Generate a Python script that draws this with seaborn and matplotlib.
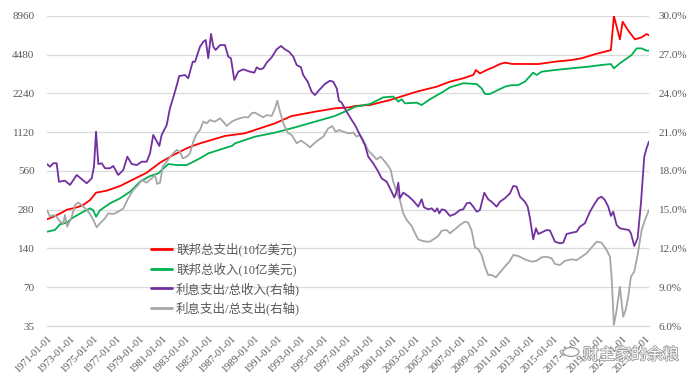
import matplotlib
matplotlib.use("Agg")
import matplotlib.pyplot as plt
import matplotlib.patheffects as pe
from matplotlib.lines import Line2D
import seaborn as sns

# ---------------- data ----------------
years = list(range(1971, 2024, 2))
tick_labels = [f"{y}-01-01" for y in years]

exp_t = [1971.0, 1971.69, 1972.42, 1972.71, 1973.58, 1974.15, 1974.74, 1975.26, 1976.19, 1977.34,
         1978.5, 1979.66, 1980.82, 1981.97, 1983.14, 1983.86, 1984.29, 1986.46, 1988.2, 1990.81,
         1992.26, 1994.28, 1996.02, 1997.32, 1997.76, 1999.06, 2000.8, 2003.11, 2004.85, 2006.01,
         2007.16, 2008.03, 2008.27, 2008.61, 2009.2, 2009.77, 2010.35, 2010.8, 2011.4, 2013.68,
         2015.13, 2016.58, 2017.45, 2018.6, 2019.47, 2019.99, 2020.25, 2020.77, 2021.01, 2021.5,
         2022.08, 2022.66, 2023.09, 2023.29]
exp_v = [236, 250, 270, 280, 292, 305, 333, 380, 394, 428,
         482, 543, 650, 745, 840, 891, 918, 1048, 1099, 1314,
         1498, 1617, 1719, 1749, 1793, 1824, 1994, 2314, 2530, 2769,
         2940, 3120, 3410, 3210, 3410, 3580, 3795, 3890, 3800, 3795,
         3956, 4080, 4205, 4525, 4735, 4870, 8960, 5900, 8090, 6890,
         5900, 6120, 6490, 6350]

rec_t = [1971.0, 1971.69, 1972.13, 1972.71, 1973.28, 1974.15, 1974.74, 1975.02, 1975.26, 1975.6,
         1976.47, 1977.34, 1978.21, 1979.08, 1979.95, 1980.67, 1981.54, 1982.27, 1983.14, 1983.71,
         1984.29, 1985.01, 1987.1, 1987.33, 1989.07, 1990.81, 1992.54, 1994.28, 1996.02, 1997.32,
         1997.76, 1999.06, 2000.21, 2001.08, 2001.52, 2001.81, 2002.1, 2003.11, 2003.55, 2004.27,
         2005.42, 2006.01, 2007.16, 2008.32, 2008.76, 2009.05, 2009.48, 2010.06, 2010.78, 2011.22,
         2011.94, 2012.52, 2013.24, 2013.54, 2013.97, 2015.13, 2016.58, 2018.02, 2019.18, 2019.99,
         2020.25, 2020.77, 2021.79, 2022.22, 2022.66, 2023.09, 2023.29]
rec_v = [189, 195, 216, 222, 244, 270, 287, 277, 247, 277,
         314, 343, 386, 462, 512, 537, 634, 623, 623, 661,
         703, 768, 880, 918, 1035, 1112, 1222, 1353, 1498, 1687,
         1768, 1857, 2090, 2120, 1937, 2020, 1878, 1900, 1824, 2020,
         2314, 2503, 2690, 2655, 2457, 2220, 2220, 2356, 2530, 2590,
         2606, 2769, 3252, 3120, 3309, 3410, 3515, 3619, 3731, 3795,
         3515, 3844, 4460, 5020, 5020, 4820, 4820]

int_rec_t = [1971.0, 1971.26, 1971.55, 1971.84, 1972.04, 1972.56, 1973.0, 1973.58, 1974.45, 1974.88,
             1975.08, 1975.26, 1975.46, 1975.75, 1976.04, 1976.47, 1976.76, 1977.19, 1977.63, 1977.98,
             1978.36, 1978.79, 1979.23, 1979.66, 1979.95, 1980.23, 1980.76, 1980.96, 1981.4, 1981.68,
             1982.12, 1982.49, 1982.99, 1983.27, 1983.66, 1983.86, 1984.29, 1984.58, 1984.79, 1985.01,
             1985.25, 1985.45, 1985.65, 1986.03, 1986.46, 1986.75, 1986.98, 1987.27, 1987.62, 1988.05,
             1988.63, 1989.01, 1989.22, 1989.5, 1989.79, 1990.08, 1990.52, 1990.95, 1991.33, 1991.67,
             1992.02, 1992.4, 1992.69, 1993.06, 1993.26, 1993.65, 1993.99, 1994.28, 1994.71, 1995.15,
             1995.58, 1995.87, 1996.17, 1996.37, 1996.6, 1997.03, 1997.47, 1997.76, 1998.19, 1998.62,
             1998.91, 1999.34, 1999.78, 2000.07, 2000.51, 2000.73, 2000.94, 2001.17, 2001.38, 2001.52,
             2001.66, 2001.95, 2002.38, 2002.82, 2003.25, 2003.55, 2003.75, 2004.12, 2004.42, 2004.7,
             2004.9, 2005.08, 2005.29, 2005.57, 2006.01, 2006.44, 2006.88, 2007.16, 2007.46, 2007.74,
             2008.03, 2008.33, 2008.61, 2008.99, 2009.33, 2009.63, 2010.06, 2010.35, 2010.78, 2011.22,
             2011.51, 2011.8, 2012.09, 2012.52, 2012.76, 2012.96, 2013.24, 2013.48, 2013.68, 2014.11,
             2014.41, 2014.69, 2015.13, 2015.56, 2015.85, 2016.14, 2016.58, 2017.01, 2017.3, 2017.73,
             2018.17, 2018.6, 2018.89, 2019.18, 2019.47, 2019.76, 2019.99, 2020.19, 2020.49, 2020.77,
             2021.21, 2021.56, 2021.73, 2022.02, 2022.31, 2022.6, 2022.89, 2023.09, 2023.29]
int_rec_v = [18.54, 18.33, 18.6, 18.6, 17.17, 17.25, 16.92, 17.69, 17.05, 17.43,
             18.33, 21.04, 18.54, 18.6, 18.21, 18.21, 18.39, 17.69, 18.08, 19.11,
             18.54, 18.46, 18.72, 18.72, 19.37, 20.79, 19.94, 20.79, 21.56, 22.85,
             24.14, 25.35, 25.43, 25.18, 26.46, 26.46, 27.62, 28.01, 28.14, 26.73,
             28.61, 27.62, 27.37, 27.75, 27.75, 26.85, 26.73, 25.05, 25.69, 25.87,
             25.69, 25.61, 26.03, 25.87, 25.95, 26.38, 26.8, 27.42, 27.68, 27.42,
             27.24, 26.85, 26.21, 26.03, 25.43, 24.91, 24.14, 23.88, 24.33, 24.74,
             24.99, 24.91, 24.4, 23.44, 23.29, 22.59, 21.95, 21.56, 20.79, 20.01,
             19.11, 18.6, 17.95, 17.43, 17.17, 16.79, 16.4, 15.96, 16.4, 17.1,
             15.89, 16.32, 16.06, 15.7, 15.24, 15.81, 15.19, 15.03, 15.11, 14.85,
             15.11, 14.72, 15.03, 14.98, 14.52, 14.67, 14.98, 15.03, 15.5, 15.55,
             15.24, 14.85, 14.98, 16.32, 15.81, 15.62, 15.24, 15.62, 15.89, 16.27,
             16.84, 16.79, 16.01, 15.62, 15.24, 14.34, 12.71, 13.56, 13.12, 13.3,
             13.43, 13.4, 12.53, 12.4, 12.45, 13.12, 13.22, 13.3, 13.69, 13.95,
             14.85, 15.5, 15.89, 16.01, 15.75, 15.24, 14.52, 14.85, 13.82, 13.56,
             13.49, 13.43, 13.18, 12.19, 12.79, 15.5, 19.11, 19.76, 20.27]

int_exp_t = [1971.0, 1971.26, 1971.55, 1971.84, 1972.13, 1972.42, 1972.56, 1972.76, 1973.15, 1973.43,
             1973.72, 1974.01, 1974.45, 1974.74, 1975.02, 1975.32, 1975.6, 1976.04, 1976.32, 1976.76,
             1977.19, 1977.63, 1978.06, 1978.5, 1978.93, 1979.23, 1979.66, 1980.09, 1980.38, 1980.58,
             1980.82, 1981.05, 1981.4, 1981.83, 1982.27, 1982.55, 1982.79, 1983.14, 1983.42, 1983.71,
             1984.0, 1984.29, 1984.58, 1984.87, 1985.16, 1985.59, 1986.03, 1986.31, 1986.61, 1987.04,
             1987.48, 1988.05, 1988.49, 1988.78, 1989.07, 1989.42, 1989.79, 1990.08, 1990.52, 1990.81,
             1991.01, 1991.24, 1991.53, 1991.91, 1992.26, 1992.69, 1993.06, 1993.41, 1993.85, 1994.22,
             1994.57, 1995.0, 1995.44, 1995.78, 1996.08, 1996.37, 1996.74, 1997.17, 1997.61, 1997.9,
             1998.19, 1998.48, 1998.91, 1999.21, 1999.64, 1999.99, 2000.36, 2000.65, 2000.86, 2001.08,
             2001.38, 2001.66, 2001.95, 2002.25, 2002.68, 2002.97, 2003.25, 2003.55, 2003.98, 2004.27,
             2004.56, 2004.99, 2005.29, 2005.72, 2006.01, 2006.44, 2006.88, 2007.31, 2007.6, 2007.89,
             2008.18, 2008.47, 2008.76, 2009.05, 2009.33, 2009.63, 2010.0, 2010.29, 2010.78, 2011.22,
             2011.51, 2011.94, 2012.52, 2013.1, 2013.54, 2013.97, 2014.41, 2014.84, 2015.13, 2015.56,
             2016.0, 2016.58, 2017.01, 2017.45, 2017.88, 2018.32, 2018.75, 2019.18, 2019.62, 2019.91,
             2020.05, 2020.25, 2020.49, 2020.77, 2021.06, 2021.27, 2021.5, 2021.73, 2022.02, 2022.31,
             2022.66, 2022.95, 2023.29]
int_exp_v = [14.98, 14.46, 14.59, 14.46, 14.08, 13.95, 14.59, 13.69, 14.46, 15.37,
             15.55, 15.37, 14.98, 14.67, 14.21, 13.64, 13.95, 14.34, 14.72, 14.67,
             14.85, 15.11, 15.89, 16.53, 16.92, 17.3, 17.1, 17.43, 17.69, 17.0,
             17.1, 18.33, 18.72, 19.24, 19.63, 19.5, 18.98, 19.11, 19.37, 20.27,
             20.86, 21.17, 21.82, 21.69, 21.95, 21.82, 22.08, 21.82, 21.48, 21.82,
             22.0, 22.16, 22.16, 22.47, 22.52, 22.33, 22.16, 22.33, 22.26, 22.85,
             23.44, 22.59, 21.69, 20.97, 20.79, 20.15, 20.35, 20.15, 19.83, 20.15,
             20.4, 20.66, 21.3, 21.48, 21.04, 21.17, 21.04, 20.92, 20.97, 20.66,
             20.79, 20.4, 19.57, 19.32, 18.9, 19.11, 18.72, 18.39, 18.08, 17.17,
             16.4, 15.75, 14.72, 14.21, 13.74, 13.18, 12.71, 12.6, 12.53, 12.53,
             12.71, 12.97, 13.38, 13.43, 13.18, 13.49, 13.82, 14.08, 14.0, 13.38,
             12.09, 11.94, 11.5, 10.59, 9.95, 9.95, 9.77, 10.08, 10.59, 11.05,
             11.5, 11.42, 11.16, 10.98, 11.05, 11.32, 11.36, 11.24, 10.8, 10.72,
             11.05, 11.16, 11.1, 11.36, 11.63, 12.09, 12.53, 12.45, 11.88, 11.36,
             9.82, 6.08, 7.24, 9.04, 6.72, 7.24, 8.27, 9.82, 10.21, 11.5,
             13.43, 14.21, 14.98]

left_ticks = [35, 70, 140, 280, 560, 1120, 2240, 4480, 8960]
right_ticks = [6, 9, 12, 15, 18, 21, 24, 27, 30]

labels = ["联邦总支出(10亿美元)", "联邦总收入(10亿美元)",
          "利息支出/总收入(右轴)", "利息支出/总支出(右轴)"]
colors = ["#FF0000", "#00B050", "#7030A0", "#A6A6A6"]

# ---------------- style ----------------
sns.set_theme(style="white")
plt.rcParams["font.family"] = ["Liberation Serif", "Noto Sans CJK SC"]
plt.rcParams["axes.unicode_minus"] = False

W, H = 700, 385
fig = plt.figure(figsize=(W / 100, H / 100), dpi=100)
L, R, T, B = 47, 649, 16, 326
ax = fig.add_axes([L / W, 1 - B / H, (R - L) / W, (B - T) / H])
ax2 = ax.twinx()

lw = 1.3
sns.lineplot(x=exp_t, y=exp_v, ax=ax, color=colors[0], lw=lw, sort=False, estimator=None)
sns.lineplot(x=rec_t, y=rec_v, ax=ax, color=colors[1], lw=lw, sort=False, estimator=None)
sns.lineplot(x=int_exp_t, y=int_exp_v, ax=ax2, color=colors[3], lw=lw, sort=False, estimator=None)
sns.lineplot(x=int_rec_t, y=int_rec_v, ax=ax2, color=colors[2], lw=lw, sort=False, estimator=None)

# left log axis
ax.set_yscale("log", base=2)
ax.set_ylim(35, 8960)
ax.set_yticks(left_ticks)
ax.set_yticklabels([str(v) for v in left_ticks])
ax.yaxis.set_minor_locator(plt.NullLocator())
ax.set_xlim(1971.0, 2023.3)
ax.set_xticks(years)
ax.set_xticklabels(tick_labels, rotation=45, ha="right", rotation_mode="anchor")
ax.xaxis.set_minor_locator(plt.NullLocator())

# right axis
ax2.set_ylim(6, 30)
ax2.set_yticks(right_ticks)
ax2.set_yticklabels([f"{v:.1f}%" for v in right_ticks])

txt_col = "#595959"
grid_col = "#D9D9D9"
ax.yaxis.grid(True, color=grid_col, lw=0.9)
ax.xaxis.grid(False)
ax2.grid(False)
for a in (ax, ax2):
    for s in a.spines.values():
        s.set_visible(False)
    a.set_xlabel("")
    a.set_ylabel("")
ax.spines["bottom"].set_visible(True)
ax.spines["bottom"].set_color(grid_col)
ax.spines["bottom"].set_linewidth(0.9)

ax.tick_params(axis="x", which="major", direction="out", length=4, width=0.9,
               color=grid_col, labelcolor=txt_col, labelsize=7.5, pad=2)
ax.tick_params(axis="y", which="both", length=0, labelcolor=txt_col, labelsize=8, pad=9)
ax2.tick_params(axis="y", which="both", length=0, labelcolor=txt_col, labelsize=8, pad=7)

# legend
handles = [Line2D([], [], color=c, lw=2.0) for c in colors]
leg = ax2.legend(handles, labels, loc="upper left", bbox_to_anchor=(151 / W, 1 - 243 / H),
                 bbox_transform=fig.transFigure, frameon=False, fontsize=9,
                 handlelength=1.7, handletextpad=0.3, labelspacing=0.45,
                 borderpad=0, borderaxespad=0)
for t in leg.get_texts():
    t.set_color(txt_col)

# watermark
wm = fig.text(583 / W, 1 - 355 / H, "财主家的余粮", fontsize=11.5, color="white",
              family=["Noto Sans CJK SC"], va="center", ha="left")
wm.set_path_effects([pe.withStroke(linewidth=1.2, foreground="#9A9A9A")])
circ = plt.Circle((571 / W, 1 - 352 / H), 8 / W, transform=fig.transFigure,
                  facecolor="white", edgecolor="#9A9A9A", lw=0.9)
fig.add_artist(circ)

fig.savefig("out.png", dpi=100)
